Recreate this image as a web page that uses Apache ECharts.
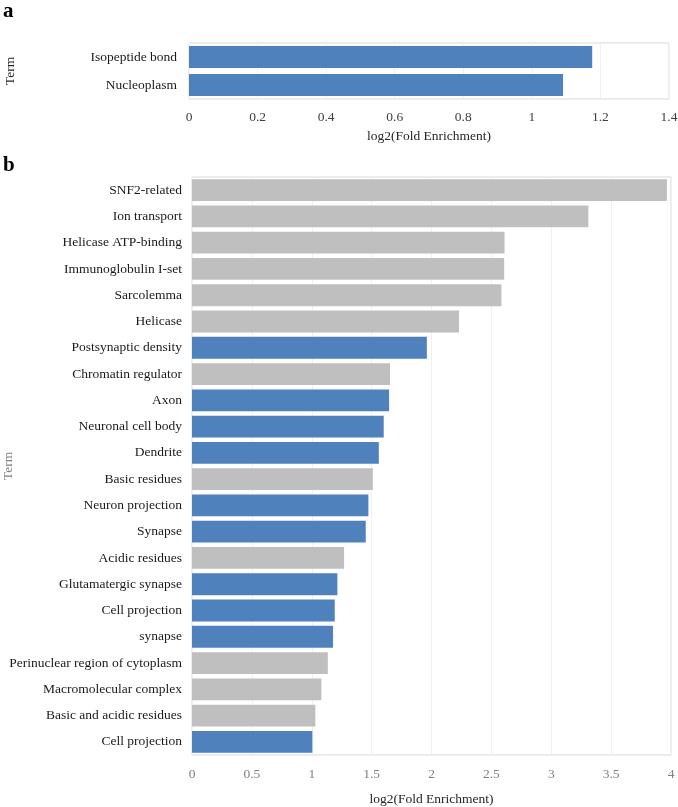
<!DOCTYPE html>
<html>
<head>
<meta charset="utf-8">
<script src="https://cdn.jsdelivr.net/npm/echarts@6/dist/echarts.min.js"></script>
<style>html,body{margin:0;padding:0;background:#fff;}#c{width:678px;height:807px;}</style>
</head>
<body>
<div id="c"></div>
<script>
// Panel a
const catsA = ['Isopeptide bond', 'Nucleoplasm'];
const valsA = [1.176, 1.091];
const colorsA = ['blue', 'blue'];

// Panel b
const catsB = ['SNF2-related', 'Ion transport', 'Helicase ATP-binding', 'Immunoglobulin I-set',
  'Sarcolemma', 'Helicase', 'Postsynaptic density', 'Chromatin regulator', 'Axon',
  'Neuronal cell body', 'Dendrite', 'Basic residues', 'Neuron projection', 'Synapse',
  'Acidic residues', 'Glutamatergic synapse', 'Cell projection', 'synapse',
  'Perinuclear region of cytoplasm', 'Macromolecular complex', 'Basic and acidic residues',
  'Cell projection'];
const valsB = [3.966, 3.31, 2.61, 2.607, 2.584, 2.23, 1.961, 1.654, 1.646, 1.601, 1.56, 1.51,
  1.473, 1.451, 1.27, 1.214, 1.192, 1.178, 1.134, 1.08, 1.03, 1.005];
const colorsB = ['grey', 'grey', 'grey', 'grey', 'grey', 'grey', 'blue', 'grey', 'blue',
  'blue', 'blue', 'grey', 'blue', 'blue', 'grey', 'blue', 'blue', 'blue', 'grey', 'grey',
  'grey', 'blue'];

const ticksA = { min: 0, max: 1.4, interval: 0.2 };
const ticksB = { min: 0, max: 4, interval: 0.5 };

const PAL = { blue: '#4f81bd', grey: '#bfbfbf' };
const FONT = '"Liberation Serif", "Times New Roman", serif';

function mkData(vals, cols) {
  return vals.map((v, i) => ({ value: v, itemStyle: { color: PAL[cols[i]] } }));
}
// unique category keys (index) so duplicate names stay separate rows
const keysA = catsA.map((c, i) => String(i));
const keysB = catsB.map((c, i) => String(i));

const chart = echarts.init(document.getElementById('c'), null, { renderer: 'canvas' });
chart.setOption({
  animation: false,
  backgroundColor: '#fff',
  textStyle: { fontFamily: FONT },
  graphic: [
    { type: 'text', left: 3, top: 1, style: { text: 'a', font: 'bold 21px ' + FONT, fill: '#000' } },
    { type: 'text', left: 3, top: 155, style: { text: 'b', font: 'bold 21px ' + FONT, fill: '#000' } }
  ],
  grid: [
    { left: 189, top: 43, width: 480, height: 56, show: true, borderColor: '#d9d9d9', borderWidth: 1,
      containLabel: false, outerBoundsMode: 'none' },
    { left: 192, top: 177, width: 479, height: 578, show: true, borderColor: '#d9d9d9', borderWidth: 1,
      containLabel: false, outerBoundsMode: 'none' }
  ],
  xAxis: [
    {
      gridIndex: 0, type: 'value', min: ticksA.min, max: ticksA.max, interval: ticksA.interval,
      axisLine: { show: false }, axisTick: { show: false },
      splitLine: { show: true, lineStyle: { color: '#f0f0f0', width: 1 } },
      axisLabel: { color: '#404040', fontSize: 13.5, fontFamily: FONT, margin: 11 },
      name: 'log2(Fold Enrichment)', nameLocation: 'middle', nameGap: 30,
      nameTextStyle: { color: '#262626', fontSize: 13.5, fontFamily: FONT }
    },
    {
      gridIndex: 1, type: 'value', min: ticksB.min, max: ticksB.max, interval: ticksB.interval,
      axisLine: { show: false }, axisTick: { show: false },
      splitLine: { show: true, lineStyle: { color: '#f0f0f0', width: 1 } },
      axisLabel: { color: '#808080', fontSize: 13.5, fontFamily: FONT, margin: 12 },
      name: 'log2(Fold Enrichment)', nameLocation: 'middle', nameGap: 37,
      nameTextStyle: { color: '#262626', fontSize: 13.5, fontFamily: FONT }
    }
  ],
  yAxis: [
    {
      gridIndex: 0, type: 'category', data: keysA, inverse: true,
      axisLine: { show: false }, axisTick: { show: false },
      axisLabel: { color: '#1a1a1a', fontSize: 13.5, fontFamily: FONT, margin: 12,
        formatter: (v) => catsA[+v] },
      name: 'Term', nameLocation: 'middle', nameRotate: 90, nameGap: 172, nameMoveOverlap: false,
      nameTextStyle: { color: '#262626', fontSize: 13.5, fontFamily: FONT }
    },
    {
      gridIndex: 1, type: 'category', data: keysB, inverse: true,
      axisLine: { show: false }, axisTick: { show: false },
      axisLabel: { color: '#1a1a1a', fontSize: 13.5, fontFamily: FONT, margin: 10,
        formatter: (v) => catsB[+v] },
      name: 'Term', nameLocation: 'middle', nameRotate: 90, nameGap: 177, nameMoveOverlap: false,
      nameTextStyle: { color: '#808080', fontSize: 13.5, fontFamily: FONT }
    }
  ],
  series: [
    { type: 'bar', xAxisIndex: 0, yAxisIndex: 0, data: mkData(valsA, colorsA), barCategoryGap: '21%' },
    { type: 'bar', xAxisIndex: 1, yAxisIndex: 1, data: mkData(valsB, colorsB), barCategoryGap: '17%' }
  ]
});
</script>
</body>
</html>
